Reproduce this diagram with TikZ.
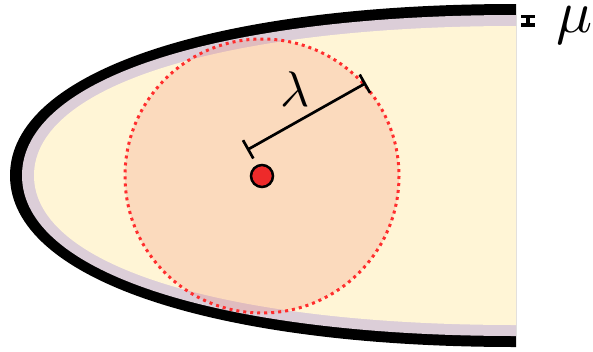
\documentclass[tikz,border=0pt]{standalone}
\usepackage{amsmath}
\usetikzlibrary{arrows.meta,calc}
\definecolor{shellInk}{RGB}{0,0,0}
\definecolor{bandLilac}{RGB}{220,206,216}
\definecolor{coreCream}{RGB}{255,245,214}
\definecolor{zoneSalmon}{RGB}{240,125,104}
\definecolor{zoneRed}{RGB}{255,45,45}
\definecolor{dotRed}{RGB}{238,42,42}

\begin{document}
\begin{tikzpicture}[x=1pt,y=-1pt,
    zone/.style={fill=zoneSalmon,fill opacity=0.22},
    rim/.style={draw=zoneRed,line width=3pt,dash pattern=on 3pt off 4pt},
    meas/.style={{Bar[width=21pt]}-{Bar[width=21pt]},line width=2.7pt},
    thin/.style={line width=3.3pt},
    lbl/.style={inner sep=0pt}]
    \useasboundingbox (0,0) rectangle (593,351);
    % body: black shell, lilac band, cream core
    \fill[shellInk] (516,4) .. controls (212,4) and (10,72) .. (10,175.5)
        .. controls (10,279) and (212,347) .. (516,347) -- cycle;
    \fill[bandLilac] (516,15) .. controls (220,15) and (22,78) .. (22,175.5)
        .. controls (22,273) and (220,336) .. (516,336) -- cycle;
    \fill[coreCream] (516,26) .. controls (228,26) and (34,84) .. (34,175.5)
        .. controls (34,267) and (228,325) .. (516,325) -- cycle;
    % interaction zone
    \coordinate (ctr) at (262,176);
    \fill[zone] (ctr) circle[radius=137];
    \draw[rim] (ctr) circle[radius=137];
    \coordinate (la) at (247,150);
    \coordinate (lb) at (366,83);
    \draw[meas] (la) -- (lb);
    \node[lbl] (lam) at (295,89) {\scalebox{5}{$\lambda$}};
    \filldraw[fill=dotRed,draw=black,line width=2.5pt] (ctr) circle[radius=11];
    % band width
    \coordinate (ma) at (528,16.5);
    \coordinate (mb) at (528,25);
    \draw[thin] (ma) -- (mb);
    \draw[thin] ($(ma)+(-7,0)$) -- ($(ma)+(7,0)$);
    \draw[thin] ($(mb)+(-7,0)$) -- ($(mb)+(7,0)$);
    \node[lbl] (mu) at (575,25) {\scalebox{6}{$\mu$}};
\end{tikzpicture}
\end{document}
